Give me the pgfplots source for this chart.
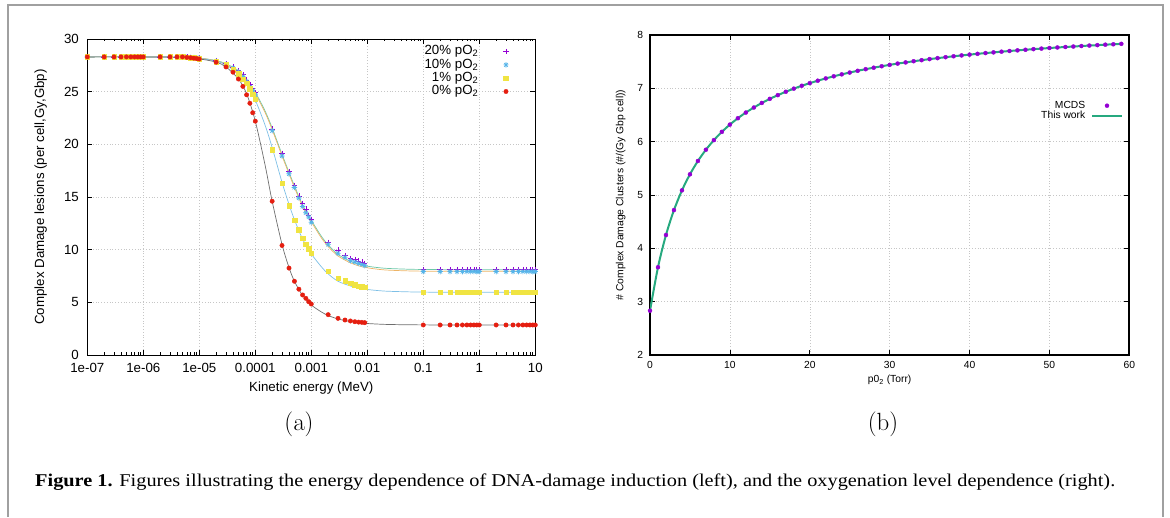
\documentclass[border=0pt]{standalone}
\usepackage[no-math]{fontspec}
\setmainfont{Liberation Sans}
\newfontfamily\capfont{Liberation Serif}
\usepackage{graphicx}
\usepackage{pgfplots}
\usepackage{pgfplotstable}
\pgfplotsset{compat=1.18}

\definecolor{gpA}{HTML}{9400D3}
\definecolor{gpB}{HTML}{56B4E9}
\definecolor{gpC}{HTML}{F0E442}
\definecolor{gpD}{HTML}{E51E10}
\definecolor{fitteal}{HTML}{6CC7A8}
\definecolor{fitorange}{HTML}{EDB466}
\definecolor{fitblue}{HTML}{7FC0E6}
\definecolor{fitgray}{HTML}{6E6E6E}
\definecolor{thiswork}{HTML}{26A97F}
\definecolor{framegray}{HTML}{A0A0A0}

\pgfdeclareplotmark{plusx}{%
 \pgfpathmoveto{\pgfqpoint{-\pgfplotmarksize}{0pt}}\pgfpathlineto{\pgfqpoint{\pgfplotmarksize}{0pt}}%
 \pgfpathmoveto{\pgfqpoint{0pt}{-\pgfplotmarksize}}\pgfpathlineto{\pgfqpoint{0pt}{\pgfplotmarksize}}%
 \pgfpathmoveto{\pgfqpoint{-0.7\pgfplotmarksize}{-0.7\pgfplotmarksize}}\pgfpathlineto{\pgfqpoint{0.7\pgfplotmarksize}{0.7\pgfplotmarksize}}%
 \pgfpathmoveto{\pgfqpoint{-0.7\pgfplotmarksize}{0.7\pgfplotmarksize}}\pgfpathlineto{\pgfqpoint{0.7\pgfplotmarksize}{-0.7\pgfplotmarksize}}%
 \pgfusepathqstroke}

\pgfplotstableread{
x y20 y10 y1 y0
1e-7 28.3 28.3 28.3 28.3
2e-7 28.3 28.3 28.3 28.3
3e-7 28.3 28.3 28.3 28.3
4e-7 28.3 28.3 28.3 28.3
5e-7 28.3 28.3 28.3 28.3
6e-7 28.3 28.3 28.3 28.3
7e-7 28.3 28.3 28.3 28.3
8e-7 28.3 28.3 28.3 28.3
9e-7 28.3 28.3 28.3 28.3
1e-6 28.3 28.3 28.3 28.3
2e-6 28.3 28.3 28.3 28.3
3e-6 28.3 28.3 28.3 28.3
4e-6 28.3 28.3 28.3 28.3
5e-6 28.3 28.3 28.3 28.3
6e-6 28.28 28.28 28.27 28.25
7e-6 28.26 28.26 28.24 28.22
8e-6 28.24 28.24 28.21 28.18
9e-6 28.22 28.22 28.18 28.14
1e-5 28.2 28.2 28.15 28.1
2e-5 27.95 27.9 27.85 27.8
3e-5 27.65 27.6 27.55 27.35
4e-5 27.35 27.25 27.15 26.85
5e-5 27.0 26.85 26.7 26.2
6e-5 26.6 26.45 26.2 25.5
7e-5 26.1 25.95 25.8 24.7
8e-5 25.65 25.45 25.3 23.9
9e-5 25.3 25.1 24.75 23.0
1e-4 24.9 24.7 24.3 22.2
2e-4 21.45 21.3 19.5 14.6
3e-4 19.15 18.9 16.3 10.4
4e-4 17.4 17.2 14.15 8.25
5e-4 16.1 15.9 12.8 7.0
6e-4 15.1 14.9 11.87 6.25
7e-4 14.4 14.1 11.07 5.7
8e-4 13.86 13.5 10.5 5.38
9e-4 13.26 13.1 10.1 5.06
1e-3 12.88 12.6 9.65 4.84
2e-3 10.7 10.5 7.94 3.83
3e-3 9.97 9.65 7.28 3.48
4e-3 9.43 9.27 7.03 3.32
5e-3 9.15 8.96 6.8 3.23
6e-3 9.05 8.83 6.7 3.16
7e-3 8.92 8.7 6.55 3.12
8e-3 8.83 8.6 6.49 3.1
9e-3 8.7 8.48 6.42 3.07
0.1 8.12 7.92 5.95 2.85
0.2 8.12 7.92 5.95 2.85
0.3 8.12 7.92 5.95 2.85
0.4 8.12 7.92 5.95 2.85
0.5 8.12 7.92 5.95 2.85
0.6 8.12 7.92 5.95 2.85
0.7 8.12 7.92 5.95 2.85
0.8 8.12 7.92 5.95 2.85
0.9 8.12 7.92 5.95 2.85
1 8.12 7.92 5.95 2.85
2 8.12 7.92 5.95 2.85
3 8.12 7.92 5.95 2.85
4 8.12 7.92 5.95 2.85
5 8.12 7.92 5.95 2.85
6 8.12 7.92 5.95 2.85
7 8.12 7.92 5.95 2.85
8 8.12 7.92 5.95 2.85
9 8.12 7.92 5.95 2.85
10 8.12 7.92 5.95 2.85
}\dataA

\pgfplotstableread{
x fteal forange fblue fgray
1e-7 28.3 28.3 28.3 28.3
1e-6 28.3 28.3 28.3 28.3
3e-6 28.28 28.28 28.28 28.28
1e-5 28.18 28.18 28.15 28.1
2e-5 27.95 27.93 27.9 27.8
3e-5 27.65 27.6 27.55 27.35
5e-5 27.0 26.9 26.7 26.2
7e-5 26.2 26.05 25.75 24.8
1e-4 24.95 24.8 24.2 22.2
1.5e-4 23.15 23.0 21.8 18.0
2e-4 21.55 21.4 19.7 14.6
3e-4 19.05 18.9 16.4 10.5
4e-4 17.35 17.2 14.3 8.3
5e-4 16.05 15.9 12.85 7.0
7e-4 14.25 14.1 11.0 5.65
1e-3 12.8 12.65 9.6 4.75
1.5e-3 11.3 11.15 8.4 4.1
2e-3 10.45 10.3 7.7 3.75
3e-3 9.55 9.4 7.0 3.42
5e-3 8.9 8.75 6.55 3.17
7e-3 8.62 8.47 6.35 3.06
1e-2 8.43 8.28 6.22 2.99
2e-2 8.24 8.08 6.07 2.91
5e-2 8.15 7.99 6.0 2.87
0.1 8.12 7.96 5.97 2.86
0.3 8.1 7.95 5.96 2.85
1 8.1 7.95 5.95 2.85
10 8.1 7.95 5.95 2.85
}\fitA

\pgfplotstableread{
x y
0 2.83
1 3.646
2 4.250
3 4.717
4 5.087
5 5.388
6 5.638
7 5.849
8 6.029
9 6.184
10 6.320
11 6.440
12 6.546
13 6.640
14 6.726
15 6.803
16 6.872
17 6.936
18 6.994
19 7.048
20 7.097
21 7.143
22 7.186
23 7.225
24 7.262
25 7.296
26 7.329
27 7.359
28 7.387
29 7.414
30 7.440
31 7.464
32 7.486
33 7.508
34 7.528
35 7.548
36 7.566
37 7.584
38 7.601
39 7.617
40 7.632
41 7.647
42 7.661
43 7.674
44 7.687
45 7.700
46 7.712
47 7.723
48 7.735
49 7.745
50 7.756
51 7.766
52 7.775
53 7.784
54 7.793
55 7.802
56 7.810
57 7.819
58 7.826
59 7.834
}\dataB

\begin{document}
\begin{tikzpicture}[x=1pt,y=1pt]
\path[use as bounding box] (0,0) rectangle (1170,517);
\draw[framegray, line width=2pt] (7.6,0) -- (7.6,512.3) -- (1163.3,512.3) -- (1163.3,0);

% ---------- left panel ----------
\begin{axis}[
  at={(87.3pt,162pt)}, anchor=south west, scale only axis,
  width=448pt, height=316pt,
  xmode=log, xmin=1e-7, xmax=10, ymin=0, ymax=30,
  xtick={1e-7,1e-6,1e-5,1e-4,1e-3,1e-2,1e-1,1,10},
  xticklabels={1e-07,1e-06,1e-05,0.0001,0.001,0.01,0.1,1,10},
  minor xtick={2e-7,3e-7,4e-7,5e-7,6e-7,7e-7,8e-7,9e-7,2e-6,3e-6,4e-6,5e-6,6e-6,7e-6,8e-6,9e-6,2e-5,3e-5,4e-5,5e-5,6e-5,7e-5,8e-5,9e-5,2e-4,3e-4,4e-4,5e-4,6e-4,7e-4,8e-4,9e-4,2e-3,3e-3,4e-3,5e-3,6e-3,7e-3,8e-3,9e-3,0.02,0.03,0.04,0.05,0.06,0.07,0.08,0.09,0.2,0.3,0.4,0.5,0.6,0.7,0.8,0.9,2,3,4,5,6,7,8,9},
  ytick={0,5,10,15,20,25,30},
  /pgf/number format/assume math mode=true,
  tick align=inside, major tick length=5pt, minor tick length=2.5pt,
  every tick/.style={black, line width=0.6pt},
  axis line style={line width=0.8pt},
  grid=major, major grid style={gray!45, dash pattern=on 0.8pt off 2pt, line width=0.5pt},
  tick label style={font=\fontsize{13.3}{14}\selectfont},
  yticklabel style={inner sep=0pt, anchor=east, xshift=-8.3pt},
  xticklabel style={inner sep=0pt, anchor=north, yshift=-8pt},
  label style={font=\fontsize{13.3}{14}\selectfont},
  xlabel={Kinetic energy (MeV)},
  ylabel={Complex Damage lesions (per cell,Gy,Gbp)},
  xlabel style={at={(axis description cs:0.5,-0.1044)}, anchor=center, inner sep=0pt},
  ylabel style={at={(axis description cs:-0.104,0.5)}, anchor=center, inner sep=0pt},
  legend plot pos=right, legend cell align=right,
  legend image code/.code={\draw[mark repeat=2,mark phase=2,#1] plot coordinates {(0pt,0pt) (8.5pt,0pt) (17pt,0pt)};},
  legend style={draw=none, fill=none, at={(axis description cs:1,1)}, anchor=north east,
    xshift=-26.6pt, yshift=-5.95pt, font=\fontsize{13.3}{13.3}\selectfont,
    row sep=0pt, column sep=25pt, inner sep=0pt, outer sep=0pt,
    nodes={inner sep=0pt, text height=9.8pt, text depth=3.5pt}},
]
\addplot[fitteal, line width=0.7pt, smooth, forget plot] table[x=x, y=fteal] {\fitA};
\addplot[fitorange, line width=0.7pt, smooth, forget plot] table[x=x, y=forange] {\fitA};
\addplot[fitblue, line width=0.7pt, smooth, forget plot] table[x=x, y=fblue] {\fitA};
\addplot[fitgray, line width=0.7pt, smooth, forget plot] table[x=x, y=fgray] {\fitA};
\addplot[gpA, only marks, mark=+, mark size=2.7pt, line width=0.7pt] table[x=x, y=y20] {\dataA};
\addlegendentry{20\% pO\textsubscript{2}}
\addplot[gpB, only marks, mark=plusx, mark size=2.7pt, line width=0.7pt] table[x=x, y=y10] {\dataA};
\addlegendentry{10\% pO\textsubscript{2}}
\addplot[gpC, only marks, mark=square*, mark size=2.3pt, mark options={fill=gpC, draw=gpC}] table[x=x, y=y1] {\dataA};
\addlegendentry{1\% pO\textsubscript{2}}
\addplot[gpD, only marks, mark=*, mark size=2.2pt, mark options={fill=gpD, draw=gpD}] table[x=x, y=y0] {\dataA};
\addlegendentry{0\% pO\textsubscript{2}}
\end{axis}

% ---------- right panel ----------
\begin{axis}[
  at={(650pt,162pt)}, anchor=south west, scale only axis,
  width=479.3pt, height=320pt,
  xmin=0, xmax=60, ymin=2, ymax=8,
  xtick={0,10,20,30,40,50,60}, ytick={2,3,4,5,6,7,8},
  /pgf/number format/assume math mode=true,
  tick align=inside, major tick length=5pt,
  every tick/.style={black, line width=0.6pt},
  axis line style={line width=1.8pt},
  grid=major, major grid style={gray!45, dash pattern=on 0.8pt off 2pt, line width=0.5pt},
  tick label style={font=\fontsize{10.3}{11}\selectfont},
  yticklabel style={inner sep=0pt, anchor=east, xshift=-6.7pt},
  xticklabel style={inner sep=0pt, anchor=north, yshift=-6.3pt},
  label style={font=\fontsize{10.3}{11}\selectfont},
  xlabel={p0\textsubscript{2} (Torr)},
  ylabel={\# Complex Damage Clusters (\#/(Gy Gbp cell))},
  xlabel style={at={(axis description cs:0.5,-0.078)}, anchor=center, inner sep=0pt},
  ylabel style={at={(axis description cs:-0.0611,0.5)}, anchor=center, inner sep=0pt},
  legend plot pos=right, legend cell align=right,
  legend image code/.code={\draw[mark repeat=2,mark phase=2,#1] plot coordinates {(0pt,0pt) (14.7pt,0pt) (29.4pt,0pt)};},
  legend style={draw=none, fill=none, at={(axis description cs:1,1)}, anchor=north east,
    xshift=-6.6pt, yshift=-65.5pt, font=\fontsize{10.3}{10.4}\selectfont,
    row sep=0pt, column sep=6pt, inner sep=0pt, outer sep=0pt,
    nodes={inner sep=0pt, text height=7.5pt, text depth=2.9pt}},
]
\addplot[gpA, only marks, mark=*, mark size=2pt, mark options={fill=gpA, draw=gpA}] table[x=x, y=y] {\dataB};
\addlegendentry{MCDS}
\addplot[thiswork, line width=2pt, smooth, no markers] table[x=x, y=y] {\dataB};
\addlegendentry{This work}
\end{axis}

\node[inner sep=0pt] at (299,93) {\fontsize{24}{28}\selectfont$\mathrm{(a)}$};
\node[inner sep=0pt] at (883,93) {\fontsize{24}{28}\selectfont$\mathrm{(b)}$};
\node[anchor=base west, inner sep=0pt] at (35,30.3) {\resizebox{1080pt}{\height}{\capfont\fontsize{18}{21}\selectfont\textbf{Figure 1.} Figures illustrating the energy dependence of DNA-damage induction (left), and the oxygenation level dependence (right).}};
\end{tikzpicture}
\end{document}
